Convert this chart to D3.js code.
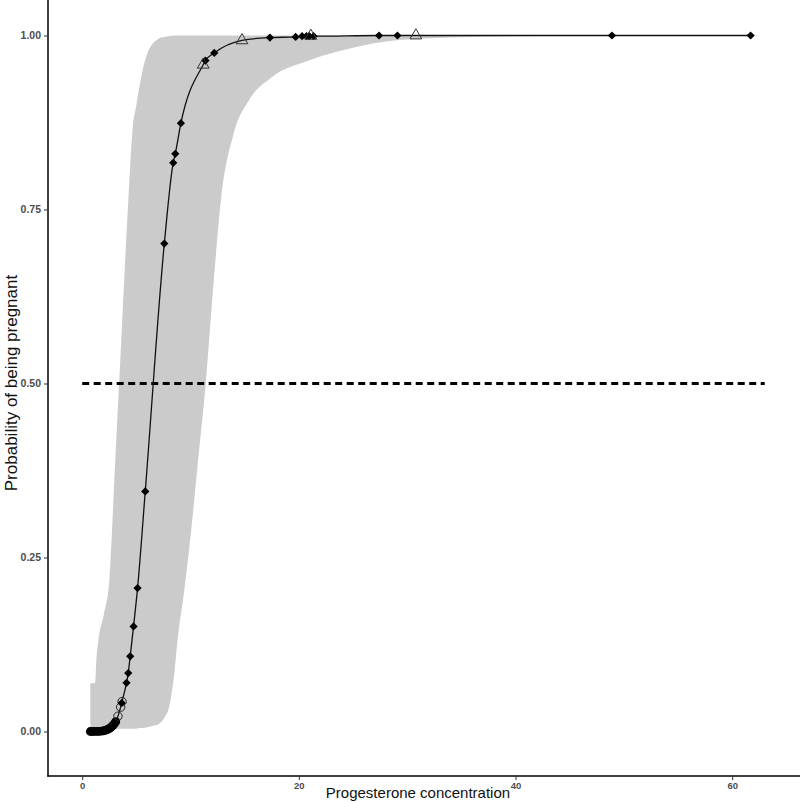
<!DOCTYPE html>
<html>
<head>
<meta charset="utf-8">
<script src="https://cdn.jsdelivr.net/npm/d3@7"></script>
<style>
  body { margin: 0; background: #fff; }
  text { font-family: "Liberation Sans", Arial, sans-serif; }
</style>
</head>
<body>
<div class="container"></div>
<script>
// observations: concentration, fitted probability, marker
const concentration = [0.75, 0.95, 1.15, 1.35, 1.55, 1.75, 1.95, 2.1, 2.25, 2.4, 2.55, 2.7, 2.85, 3.0, 3.1,
    3.3, 3.55, 3.65, 3.68,
    4.09, 4.25, 4.43, 4.74, 5.11, 5.82, 7.58, 8.40, 8.59, 9.11, 11.17, 11.38, 12.19, 14.75,
    17.33, 19.7, 20.3, 20.7, 20.96, 21.1, 21.36, 27.4, 29.1, 30.8, 48.9, 61.7];
const probability = [0.0000, 0.0000, 0.0001, 0.0001, 0.0003, 0.0006, 0.0010, 0.0016, 0.0023, 0.0034, 0.0047, 0.0066, 0.0089, 0.0119, 0.0143,
    0.022, 0.035, 0.041, 0.043,
    0.070, 0.084, 0.108, 0.151, 0.206, 0.345, 0.701, 0.817, 0.830, 0.874, 0.958, 0.964, 0.975, 0.993,
    0.997, 0.998, 0.999, 0.999, 0.999, 0.9995, 0.999, 1.0, 1.0, 1.0, 1.0, 1.0];
const marker = ['dot', 'dot', 'dot', 'dot', 'dot', 'dot', 'dot', 'dot', 'dot', 'dot', 'dot', 'dot', 'dot', 'dot', 'dot',
    'ring', 'ring', 'diamond', 'ring',
    'diamond', 'diamond', 'diamond', 'diamond', 'diamond', 'diamond', 'diamond', 'diamond', 'diamond', 'diamond', 'triangle', 'diamond', 'diamond', 'triangle',
    'diamond', 'diamond', 'diamond', 'diamond', 'diamond', 'triangle', 'diamond', 'diamond', 'diamond', 'triangle', 'diamond', 'diamond'];

// confidence band
const bandX = [0.75, 1.2, 1.3, 1.5, 2.0, 2.5, 3.0, 3.25, 3.6, 3.95, 4.3, 4.65, 5.0, 5.3, 5.65, 6.0, 6.5, 7.0, 7.1, 7.6, 8.0, 8.5, 8.8,
    9.4, 10.0, 10.7, 11.4, 12.1, 12.8, 14.0, 15.4, 17.5, 20.9, 24.6, 29.0, 33.9, 40.0, 50.0, 61.7];
const bandLow = [0.003, 0.003, 0.003, 0.003, 0.003, 0.003, 0.003, 0.004, 0.004, 0.004, 0.004, 0.004, 0.004, 0.005, 0.005, 0.006, 0.008, 0.010, 0.011, 0.020, 0.034, 0.083, 0.131,
    0.20, 0.28, 0.39, 0.50, 0.64, 0.763, 0.86, 0.907, 0.94, 0.964, 0.981, 0.993, 0.997, 0.999, 1.0, 1.0];
const bandHigh = [0.069, 0.070, 0.100, 0.131, 0.168, 0.217, 0.372, 0.452, 0.56, 0.672, 0.775, 0.865, 0.90, 0.928, 0.955, 0.974, 0.988, 0.995, 0.996, 0.998, 0.999, 1.0, 1.0,
    1.0, 1.0, 1.0, 1.0, 1.0, 1.0, 1.0, 1.0, 1.0, 1.0, 1.0, 1.0, 1.0, 1.0, 1.0, 1.0];

const xTicks = [0, 20, 40, 60];
const yTicks = [0, 0.25, 0.5, 0.75, 1];
const cutoff = 0.5;
const cutoffRange = [0, 63];

const width = 800, height = 802;

const svg = d3.select('.container')
    .append('svg')
    .attr('width', width)
    .attr('height', height);

const x = d3.scaleLinear().domain([0, 60]).range([82.2, 732.2]);
const y = d3.scaleLinear().domain([0, 1]).range([731.5, 35.5]);

const band = bandX.map((v, i) => ({ v: v, lo: bandLow[i], hi: bandHigh[i] }));
const points = concentration.map((v, i) => ({ v: v, p: probability[i], m: marker[i] }));

// ribbon
svg.append('path')
    .datum(band)
    .attr('fill', '#cbcbcb')
    .attr('d', d3.area()
        .curve(d3.curveMonotoneX)
        .x(d => x(d.v))
        .y0(d => y(d.lo))
        .y1(d => y(d.hi)));

// 0.5 cut-off
svg.append('line')
    .attr('x1', x(cutoffRange[0]))
    .attr('x2', x(cutoffRange[1]))
    .attr('y1', y(cutoff))
    .attr('y2', y(cutoff))
    .attr('stroke', '#000')
    .attr('stroke-width', 2.8)
    .attr('stroke-dasharray', '7,4.5');

// fitted line
svg.append('path')
    .datum(points)
    .attr('fill', 'none')
    .attr('stroke', '#111')
    .attr('stroke-width', 1.3)
    .attr('d', d3.line()
        .curve(d3.curveMonotoneX)
        .x(d => x(d.v))
        .y(d => y(d.p)));

// markers
let g = svg.append('g');

g.selectAll('circle.dot')
    .data(points.filter(d => d.m == 'dot'))
    .enter()
    .append('circle')
    .attr('class', 'dot')
    .attr('cx', d => x(d.v))
    .attr('cy', d => y(d.p))
    .attr('r', 4.4)
    .attr('fill', '#000');

g.selectAll('circle.ring')
    .data(points.filter(d => d.m == 'ring'))
    .enter()
    .append('circle')
    .attr('class', 'ring')
    .attr('cx', d => x(d.v))
    .attr('cy', d => y(d.p))
    .attr('r', 4.2)
    .attr('fill', 'none')
    .attr('stroke', '#222')
    .attr('stroke-width', 1);

g.selectAll('path.diamond')
    .data(points.filter(d => d.m == 'diamond'))
    .enter()
    .append('path')
    .attr('class', 'diamond')
    .attr('transform', d => `translate(${x(d.v)},${y(d.p)}) rotate(45)`)
    .attr('d', d3.symbol().type(d3.symbolSquare).size(34))
    .attr('fill', '#000');

g.selectAll('path.triangle')
    .data(points.filter(d => d.m == 'triangle'))
    .enter()
    .append('path')
    .attr('class', 'triangle')
    .attr('transform', d => `translate(${x(d.v)},${y(d.p)})`)
    .attr('d', d3.symbol().type(d3.symbolTriangle).size(60))
    .attr('fill', 'none')
    .attr('stroke', '#333')
    .attr('stroke-width', 1);

// axes
svg.append('line')
    .attr('x1', 48).attr('x2', 48)
    .attr('y1', 0).attr('y2', 776.5)
    .attr('stroke', '#000').attr('stroke-width', 1.5);
svg.append('line')
    .attr('x1', 47.25).attr('x2', width)
    .attr('y1', 776).attr('y2', 776)
    .attr('stroke', '#000').attr('stroke-width', 1.5);

let xAxis = svg.append('g')
    .attr('transform', 'translate(0,776)')
    .call(d3.axisBottom(x).tickValues(xTicks).tickSize(4).tickPadding(2));
let yAxis = svg.append('g')
    .attr('transform', 'translate(48,0)')
    .call(d3.axisLeft(y).tickValues(yTicks).tickFormat(d3.format('.2f')).tickSize(4).tickPadding(3));

[xAxis, yAxis].forEach(a => {
    a.select('.domain').remove();
    a.selectAll('.tick line').attr('stroke', '#333');
    a.selectAll('.tick text')
        .attr('fill', '#4d4d4d')
        .style('font-weight', 'bold');
});
xAxis.selectAll('.tick text').style('font-size', '9.5px');
yAxis.selectAll('.tick text').style('font-size', '10.5px');

svg.append('text')
    .attr('x', 418)
    .attr('y', 798)
    .attr('text-anchor', 'middle')
    .style('font-size', '15px')
    .attr('fill', '#111')
    .text('Progesterone concentration');

svg.append('text')
    .attr('transform', 'translate(17,383) rotate(-90)')
    .attr('text-anchor', 'middle')
    .style('font-size', '17px')
    .attr('fill', '#111')
    .text('Probability of being pregnant');
</script>
</body>
</html>
